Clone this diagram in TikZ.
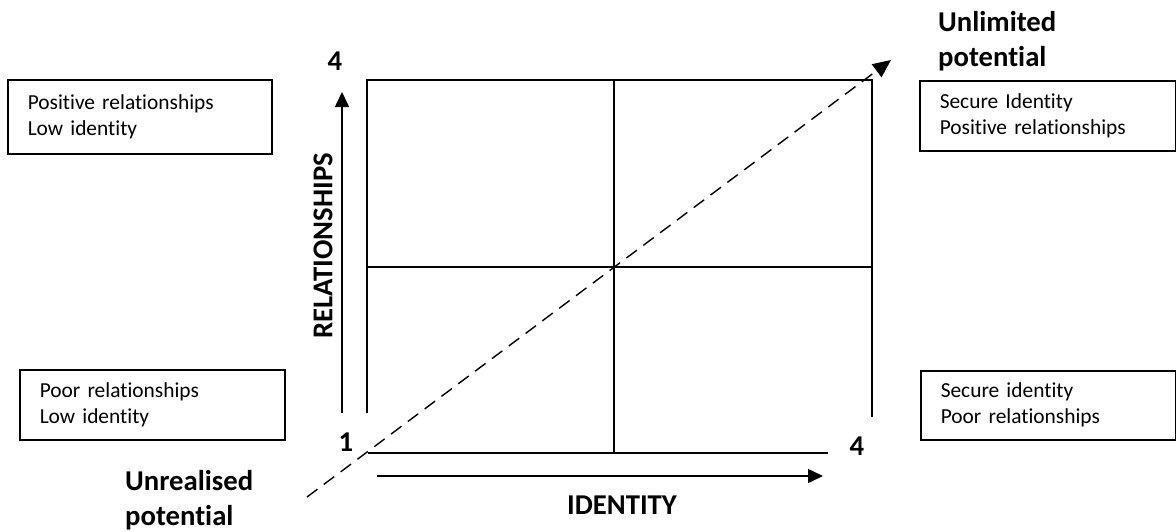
\documentclass[tikz,border=0pt]{standalone}
\usepackage{fontspec}
\setmainfont{Carlito}[Ligatures={NoCommon}]
\usetikzlibrary{arrows.meta}
\newcommand{\boxfont}{\fontsize{21.4}{26}\selectfont}
\newcommand{\lblfont}{\fontsize{28.7}{35}\selectfont\bfseries}

\begin{document}
\begin{tikzpicture}[x=1pt,y=-1pt,
  qbox/.style={draw,line width=1.5pt,anchor=north west,align=left,inner xsep=20pt,inner ysep=0pt,font=\boxfont},
  lbl/.style={inner sep=0pt,font=\lblfont},
  gridline/.style={line width=1.6pt},
  axis/.style={line width=1.6pt,-{Triangle[length=15pt,width=14pt]}},
  diag/.style={line width=1.4pt,dash pattern=on 13pt off 8pt,-{Triangle[length=18pt,width=16pt]}}]
\useasboundingbox (0,0) rectangle (1176,531);
% quadrant grid
\coordinate (nw) at (367,80);
\coordinate (ne) at (872,80);
\draw[gridline] (367,413)--(nw)--(ne)--(872,417);
\draw[gridline] (367,267)--(872,267);
\draw[gridline] (614,80)--(614,453);
\draw[gridline] (368,453)--(828,453);
% axes
\coordinate (ybot) at (342,413);\coordinate (ytop) at (342,92);
\coordinate (xleft) at (377,476);\coordinate (xright) at (823,476);
\draw[axis] (ybot)--(ytop);
\draw[axis] (xleft)--(xright);
\node[lbl] (ymax) at (335,61) {4};
\node[lbl] (orig) at (346,442) {1};
\node[lbl] (xmax) at (857,446) {4};
\node[lbl,rotate=90] (ylab) at (323,246) {RELATIONSHIPS};
\node[lbl] (xlab) at (622,505) {IDENTITY};
% potential
\node[lbl,align=left,anchor=west] (low) at (125,500) {Unrealised\\potential};
\node[lbl,align=left,anchor=west] (high) at (938,41) {Unlimited\\potential};
\coordinate (dstart) at (307,497);\coordinate (dend) at (891,60);
\draw[diag] (dstart)--(dend);
% quadrant boxes
\node[qbox,text width=224pt,minimum height=74pt] (posrel) at (7,79) {Positive relationships\\Low identity};
\node[qbox,text width=225pt,minimum height=70pt] (poorrel) at (19,369) {Poor relationships\\Low identity};
\node[qbox,text width=216pt,minimum height=70pt] (secpos) at (919,80) {Secure Identity\\Positive relationships};
\node[qbox,text width=215pt,minimum height=69pt] (secpoor) at (920,370) {Secure identity\\Poor relationships};
\end{tikzpicture}
\end{document}
